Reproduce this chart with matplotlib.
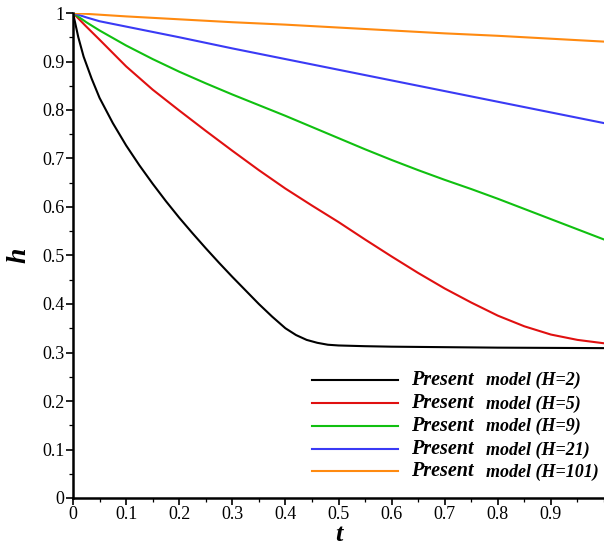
import numpy as np
import matplotlib
matplotlib.use("Agg")
import matplotlib.pyplot as plt
from matplotlib.ticker import MultipleLocator, FixedLocator

# film height h(t) for each H
t_h2 = [0, 0.01, 0.02, 0.035, 0.05, 0.075, 0.1, 0.125, 0.15, 0.175, 0.2,
        0.225, 0.25, 0.275, 0.3, 0.325, 0.35, 0.375, 0.4, 0.42, 0.44, 0.46,
        0.48, 0.5, 0.55, 0.6, 0.7, 0.8, 0.9, 1.0]
h_h2 = [1.0, 0.95, 0.91, 0.865, 0.825, 0.773, 0.727, 0.686, 0.648, 0.612,
        0.578, 0.546, 0.515, 0.485, 0.456, 0.428, 0.400, 0.374, 0.350, 0.336,
        0.326, 0.320, 0.316, 0.3145, 0.313, 0.312, 0.311, 0.310, 0.3095, 0.309]

t_h5 = [0, 0.025, 0.05, 0.1, 0.15, 0.2, 0.25, 0.3, 0.35, 0.4, 0.45, 0.5,
        0.55, 0.6, 0.65, 0.7, 0.75, 0.8, 0.85, 0.9, 0.95, 1.0]
h_h5 = [1.0, 0.972, 0.945, 0.89, 0.842, 0.799, 0.757, 0.716, 0.676, 0.638,
        0.603, 0.569, 0.533, 0.498, 0.464, 0.432, 0.403, 0.376, 0.354, 0.337,
        0.326, 0.319]

t_h9 = [0, 0.025, 0.05, 0.1, 0.15, 0.2, 0.25, 0.3, 0.35, 0.4, 0.45, 0.5,
        0.55, 0.6, 0.65, 0.7, 0.75, 0.8, 0.85, 0.9, 0.95, 1.0]
h_h9 = [1.0, 0.981, 0.964, 0.933, 0.905, 0.879, 0.855, 0.832, 0.81, 0.788,
        0.765, 0.742, 0.719, 0.697, 0.676, 0.656, 0.637, 0.617, 0.596, 0.575,
        0.554, 0.533]

t_h21 = [0, 0.025, 0.05, 0.1, 0.2, 0.3, 0.4, 0.5, 0.6, 0.7, 0.8, 0.9, 1.0]
h_h21 = [1.0, 0.991, 0.983, 0.972, 0.950, 0.927, 0.905, 0.883, 0.861, 0.839,
         0.817, 0.795, 0.773]

t_h101 = [0, 0.1, 0.2, 0.3, 0.4, 0.5, 0.6, 0.7, 0.8, 0.9, 1.0]
h_h101 = [1.0, 0.993, 0.987, 0.981, 0.976, 0.970, 0.964, 0.958, 0.953, 0.947,
          0.941]

series = [(t_h2, h_h2, "black", "(H=2)"),
          (t_h5, h_h5, "#e01010", "(H=5)"),
          (t_h9, h_h9, "#10c010", "(H=9)"),
          (t_h21, h_h21, "#3a3af5", "(H=21)"),
          (t_h101, h_h101, "#ff8a10", "(H=101)")]

plt.rcParams["font.family"] = "Liberation Serif"

fig = plt.figure(figsize=(6.04, 5.46), dpi=100)
ax = fig.add_axes([73 / 604, 48 / 546, 531 / 604, 485 / 546])

for t, h, c, _ in series:
    ax.plot(t, h, "-", color=c, lw=1.5, solid_joinstyle="round")

ax.set_xlim(0, 1)
ax.set_ylim(0, 1)
ax.xaxis.set_major_locator(FixedLocator(np.round(np.arange(0, 1.0, 0.1), 1)))
ax.xaxis.set_minor_locator(MultipleLocator(0.05))
ax.yaxis.set_major_locator(MultipleLocator(0.1))
ax.yaxis.set_minor_locator(MultipleLocator(0.05))
ax.xaxis.set_major_formatter(lambda v, p: "0" if v == 0 else f"{v:g}")
ax.yaxis.set_major_formatter(lambda v, p: "0" if v == 0 else f"{v:g}")
ax.tick_params(which="major", direction="out", length=5, width=1.2,
               labelsize=13, pad=1)
ax.tick_params(which="minor", direction="out", length=3, width=0.9)
for s in ("top", "right"):
    ax.spines[s].set_visible(False)
for s in ("left", "bottom"):
    ax.spines[s].set_linewidth(1.8)

ax.set_xlabel("t", fontsize=19, fontweight="bold", style="italic", labelpad=0)
ax.set_ylabel("h", fontsize=20, fontweight="bold", style="italic", labelpad=8)

# hand-laid legend: mixed-size italic labels
rows = [0.244, 0.196, 0.149, 0.101, 0.055]
for (t, h, c, lab), y in zip(series, rows):
    ax.plot([0.45, 0.612], [y, y], color=c, lw=1.5,
            transform=ax.transAxes, clip_on=False)
    ax.text(0.636, y, "Present", transform=ax.transAxes, fontsize=14.5,
            fontweight="bold", style="italic", va="center", ha="left")
    ax.text(0.778, y - 0.002, "model " + lab, transform=ax.transAxes,
            fontsize=13, fontweight="bold", style="italic", va="center",
            ha="left")

fig.savefig("out.png", dpi=100)
